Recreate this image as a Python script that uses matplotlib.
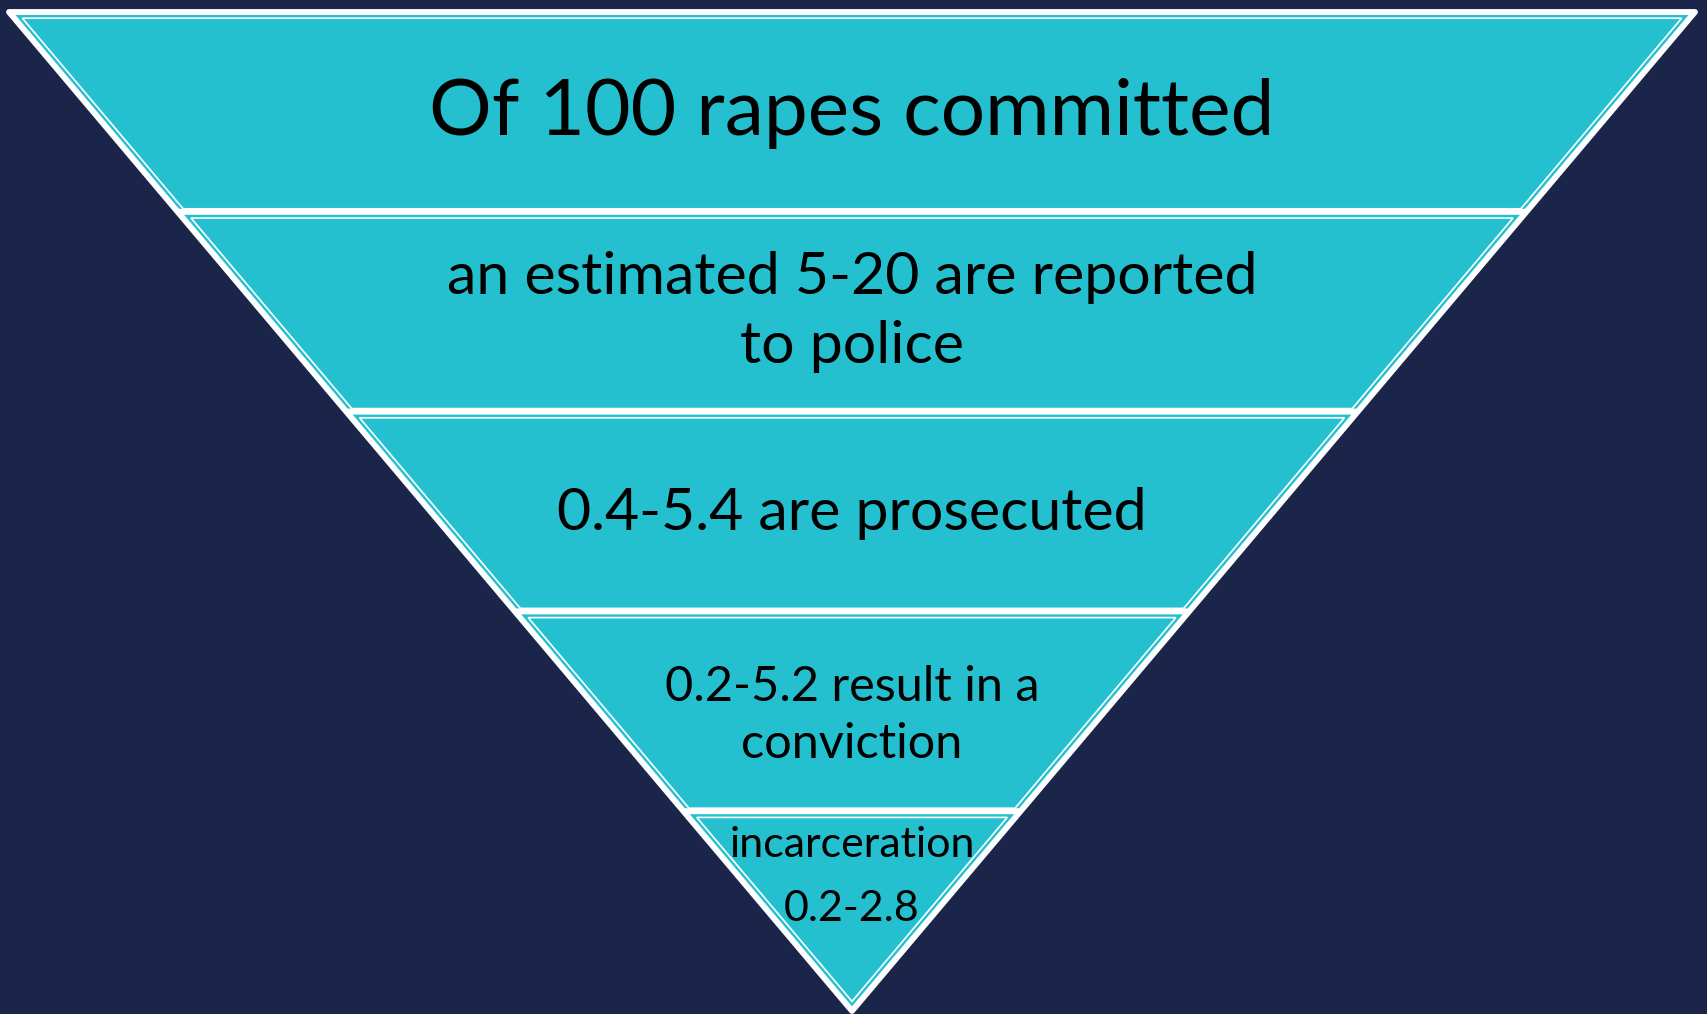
import numpy as np
import matplotlib.pyplot as plt
from matplotlib.patches import Polygon

plt.rcParams['font.family'] = ['Lato', 'DejaVu Sans']

# funnel layers, top to bottom
labels = [
    "Of 100 rapes committed",
    "an estimated 5-20 are reported\nto police",
    "0.4-5.4 are prosecuted",
    "0.2-5.2 result in a\nconviction",
    "incarceration\n0.2-2.8",
]
font_sizes = [56.5, 42.5, 42.5, 35, 31]
line_spacing = [1.2, 1.37, 1.2, 1.36, 1.84]
text_pos = [0.51, 0.5, 0.51, 0.52, 0.33]   # vertical place of label inside its layer

BG = '#1A2549'
TEAL = '#25C0CF'

# geometry in pixels (figure is 1708 x 1014)
W_PX, H_PX = 1708, 1014
top, apex = 12, 1011
cx, half_w = 852, 843
H = apex - top
slant = np.hypot(half_w, H) / H   # horizontal shift per unit of perpendicular inset


def hw(y):
    return half_w * (apex - y) / H


def layer_poly(y0, y1, side, top_in, bot_in):
    ya, yb = y0 + top_in, y1 - bot_in
    wa = hw(ya) - side * slant
    wb = hw(yb) - side * slant
    if wb < 0:
        yb = apex - side * slant * H / half_w
        wb = 0
    return [(cx - wa, ya), (cx + wa, ya), (cx + wb, yb), (cx - wb, yb)]


fig = plt.figure(figsize=(W_PX / 100, H_PX / 100), dpi=100, facecolor=BG)
ax = fig.add_axes([0, 0, 1, 1])
ax.set_xlim(0, W_PX)
ax.set_ylim(H_PX, 0)
ax.axis('off')

# white outer triangle
outer = Polygon([(cx - half_w, top), (cx + half_w, top), (cx, apex)],
                closed=True, facecolor='white', edgecolor='white',
                linewidth=4.2, joinstyle='round')
ax.add_patch(outer)

n = len(labels)
edges = np.linspace(top, apex, n + 1)
for i, lab in enumerate(labels):
    y0, y1 = edges[i], edges[i + 1]
    fill = Polygon(layer_poly(y0, y1, 3, 3, 3), closed=True,
                   facecolor=TEAL, edgecolor='none')
    ax.add_patch(fill)
    inner = Polygon(layer_poly(y0, y1, 6.2, 6.2, 3), closed=True,
                    facecolor='none', edgecolor='white', linewidth=1.2)
    ax.add_patch(inner)
    ty = y0 + (y1 - y0) * text_pos[i]
    ax.text(cx, ty, lab, ha='center', va='center', fontsize=font_sizes[i],
            linespacing=line_spacing[i], color='black', multialignment='center')

fig.savefig('out.png', dpi=100, facecolor=BG)
